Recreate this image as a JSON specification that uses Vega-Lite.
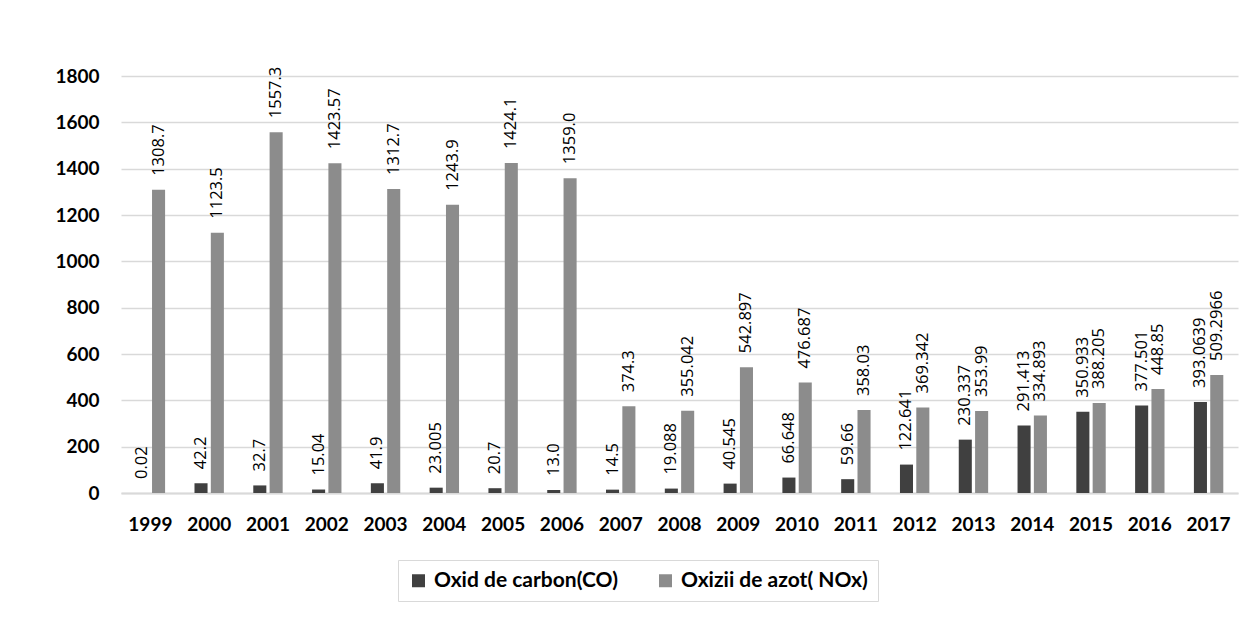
{
  "$schema": "https://vega.github.io/schema/vega-lite/v6.json",
  "autosize": {"type": "none"},
  "width": 1117,
  "height": 417,
  "padding": {"left": 121, "top": 76, "right": 9, "bottom": 150},
  "background": "white",
  "config": {
    "font": "Lato",
    "view": {"stroke": null},
    "axis": {"labelFont": "Lato", "labelColor": "#000000"}
  },
  "data": {
    "values": [
      {"year": "1999", "series": "Oxid de carbon(CO)", "value": 0.02, "label": "0.02"},
      {"year": "2000", "series": "Oxid de carbon(CO)", "value": 42.2, "label": "42.2"},
      {"year": "2001", "series": "Oxid de carbon(CO)", "value": 32.7, "label": "32.7"},
      {"year": "2002", "series": "Oxid de carbon(CO)", "value": 15.04, "label": "15.04"},
      {"year": "2003", "series": "Oxid de carbon(CO)", "value": 41.9, "label": "41.9"},
      {"year": "2004", "series": "Oxid de carbon(CO)", "value": 23.005, "label": "23.005"},
      {"year": "2005", "series": "Oxid de carbon(CO)", "value": 20.7, "label": "20.7"},
      {"year": "2006", "series": "Oxid de carbon(CO)", "value": 13.0, "label": "13.0"},
      {"year": "2007", "series": "Oxid de carbon(CO)", "value": 14.5, "label": "14.5"},
      {"year": "2008", "series": "Oxid de carbon(CO)", "value": 19.088, "label": "19.088"},
      {"year": "2009", "series": "Oxid de carbon(CO)", "value": 40.545, "label": "40.545"},
      {"year": "2010", "series": "Oxid de carbon(CO)", "value": 66.648, "label": "66.648"},
      {"year": "2011", "series": "Oxid de carbon(CO)", "value": 59.66, "label": "59.66"},
      {"year": "2012", "series": "Oxid de carbon(CO)", "value": 122.641, "label": "122.641"},
      {"year": "2013", "series": "Oxid de carbon(CO)", "value": 230.337, "label": "230.337"},
      {"year": "2014", "series": "Oxid de carbon(CO)", "value": 291.413, "label": "291.413"},
      {"year": "2015", "series": "Oxid de carbon(CO)", "value": 350.933, "label": "350.933"},
      {"year": "2016", "series": "Oxid de carbon(CO)", "value": 377.501, "label": "377.501"},
      {"year": "2017", "series": "Oxid de carbon(CO)", "value": 393.0639, "label": "393.0639"},
      {"year": "1999", "series": "Oxizii de azot( NOx)", "value": 1308.7, "label": "1308.7"},
      {"year": "2000", "series": "Oxizii de azot( NOx)", "value": 1123.5, "label": "1123.5"},
      {"year": "2001", "series": "Oxizii de azot( NOx)", "value": 1557.3, "label": "1557.3"},
      {"year": "2002", "series": "Oxizii de azot( NOx)", "value": 1423.57, "label": "1423.57"},
      {"year": "2003", "series": "Oxizii de azot( NOx)", "value": 1312.7, "label": "1312.7"},
      {"year": "2004", "series": "Oxizii de azot( NOx)", "value": 1243.9, "label": "1243.9"},
      {"year": "2005", "series": "Oxizii de azot( NOx)", "value": 1424.1, "label": "1424.1"},
      {"year": "2006", "series": "Oxizii de azot( NOx)", "value": 1359.0, "label": "1359.0"},
      {"year": "2007", "series": "Oxizii de azot( NOx)", "value": 374.3, "label": "374.3"},
      {"year": "2008", "series": "Oxizii de azot( NOx)", "value": 355.042, "label": "355.042"},
      {"year": "2009", "series": "Oxizii de azot( NOx)", "value": 542.897, "label": "542.897"},
      {"year": "2010", "series": "Oxizii de azot( NOx)", "value": 476.687, "label": "476.687"},
      {"year": "2011", "series": "Oxizii de azot( NOx)", "value": 358.03, "label": "358.03"},
      {"year": "2012", "series": "Oxizii de azot( NOx)", "value": 369.342, "label": "369.342"},
      {"year": "2013", "series": "Oxizii de azot( NOx)", "value": 353.99, "label": "353.99"},
      {"year": "2014", "series": "Oxizii de azot( NOx)", "value": 334.893, "label": "334.893"},
      {"year": "2015", "series": "Oxizii de azot( NOx)", "value": 388.205, "label": "388.205"},
      {"year": "2016", "series": "Oxizii de azot( NOx)", "value": 448.85, "label": "448.85"},
      {"year": "2017", "series": "Oxizii de azot( NOx)", "value": 509.2966, "label": "509.2966"}
    ]
  },
  "encoding": {
    "x": {
      "field": "year",
      "type": "nominal",
      "title": null,
      "scale": {"paddingInner": 0.5, "paddingOuter": 0.25},
      "axis": {
        "labelAngle": 0,
        "labelFontWeight": "bold",
        "labelFontSize": 19,
        "labelPadding": 22,
        "ticks": false,
        "domainColor": "#d9d9d9",
        "domainWidth": 2
      }
    },
    "xOffset": {
      "field": "series",
      "type": "nominal",
      "scale": {"domain": ["Oxid de carbon(CO)", "Oxizii de azot( NOx)"], "paddingInner": 0.2, "paddingOuter": 0}
    },
    "y": {
      "field": "value",
      "type": "quantitative",
      "title": null,
      "scale": {"domain": [0, 1800], "nice": false},
      "axis": {
        "values": [0, 200, 400, 600, 800, 1000, 1200, 1400, 1600, 1800],
        "format": "d",
        "labelFontWeight": "bold",
        "labelFontSize": 19,
        "labelPadding": 22,
        "ticks": false,
        "domain": false,
        "gridColor": "#d9d9d9",
        "gridWidth": 1.5
      }
    }
  },
  "layer": [
    {
      "mark": {"type": "bar"},
      "encoding": {
        "color": {
          "field": "series",
          "type": "nominal",
          "scale": {"domain": ["Oxid de carbon(CO)", "Oxizii de azot( NOx)"], "range": ["#404040", "#8c8c8c"]},
          "legend": {
            "title": null,
            "orient": "none",
            "direction": "horizontal",
            "legendX": 277,
            "legendY": 484,
            "padding": 10,
            "strokeColor": "#d9d9d9",
            "symbolType": "square",
            "symbolSize": 169,
            "symbolStrokeWidth": 0,
            "labelFont": "Lato",
            "labelFontSize": 21,
            "labelFontWeight": "bold",
            "labelColor": "#000000",
            "labelOffset": 5,
            "columnPadding": 37,
            "labelLimit": 400,
            "encode": {"symbols": {"update": {"fill": {"value": "#828282"}}}}
          }
        }
      }
    },
    {
      "mark": {"type": "text", "angle": 270, "align": "left", "baseline": "middle", "dx": 14, "fontSize": 16.5, "font": "Open Sans", "color": "#000000"},
      "encoding": {
        "text": {"field": "label", "type": "nominal"}
      }
    }
  ]
}
